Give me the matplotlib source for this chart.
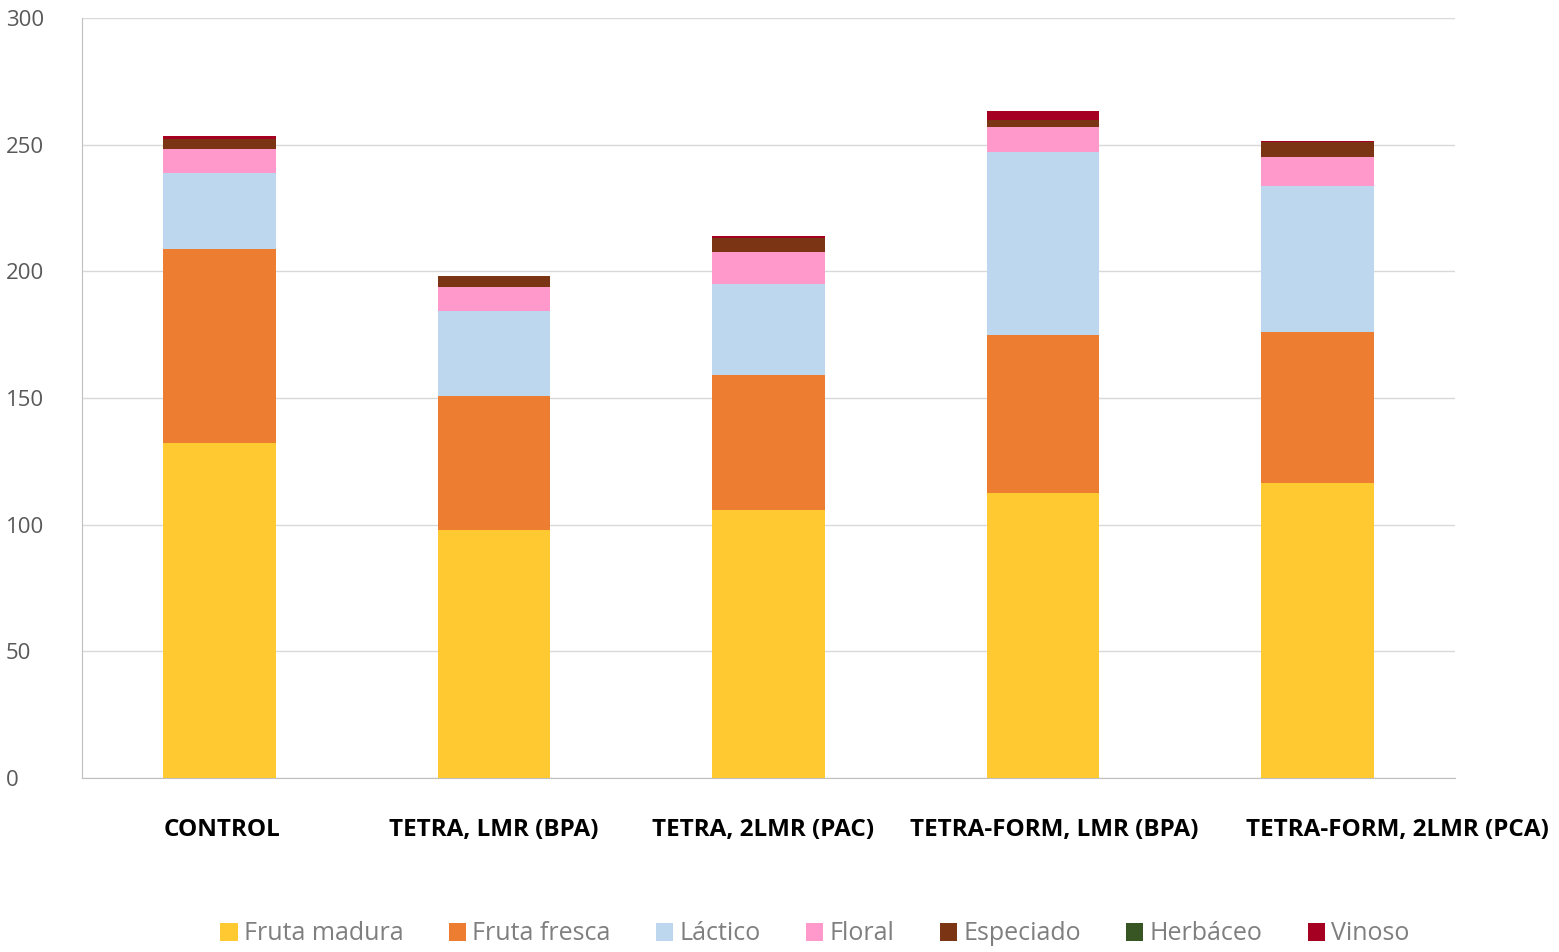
import numpy as np
import matplotlib
matplotlib.use("Agg")
import matplotlib.pyplot as plt
from matplotlib.transforms import blended_transform_factory

# datos
grupos = ['CONTROL', 'TETRA, LMR (BPA)', 'TETRA, 2LMR (PAC)',
          'TETRA-FORM, LMR (BPA)', 'TETRA-FORM, 2LMR (PCA)']
series = ['Fruta madura', 'Fruta fresca', 'Láctico', 'Floral',
          'Especiado', 'Herbáceo', 'Vinoso']
fruta_madura = [132.3, 97.9, 105.8, 112.5, 116.5]
fruta_fresca = [76.5, 52.9, 53.3, 62.4, 59.6]
lactico = [30.0, 33.7, 35.8, 72.4, 57.6]
floral = [9.5, 9.5, 12.6, 9.5, 11.6]
especiado = [4.0, 4.0, 5.5, 3.0, 5.7]
herbaceo = [0, 0, 0, 0, 0]
vinoso = [1.2, 0.3, 1.0, 3.3, 0.5]

colores = ['#FFC931', '#ED7D31', '#BDD7EE', '#FF99CC', '#7B3514', '#375623', '#A50021']
valores = [fruta_madura, fruta_fresca, lactico, floral, especiado, herbaceo, vinoso]

fig = plt.figure(figsize=(15.59, 9.52), dpi=100)
ax = fig.add_axes([82/1559, 1-778/952, (1455-82)/1559, (778-18)/952])

x = np.arange(len(grupos))
base = np.zeros(len(grupos))
handles = []
for nombre, vals, col in zip(series, valores, colores):
    b = ax.bar(x, vals, width=0.41, bottom=base, color=col, label=nombre, zorder=3)
    handles.append(b)
    base = base + np.array(vals)

ax.set_xlim(-0.5, 4.5)
ax.set_ylim(0, 300)
ax.set_yticks(range(0, 301, 50))
ax.yaxis.grid(True, color='#d9d9d9', lw=1, zorder=0)
for s in ['top', 'right']:
    ax.spines[s].set_visible(False)
ax.spines['left'].set_color('#bfbfbf')
ax.spines['bottom'].set_color('#bfbfbf')
ax.tick_params(axis='y', length=0, labelsize=16, labelcolor='#595959', pad=55)
ax.tick_params(axis='x', length=0)
ax.set_xticks([])
for t in ax.get_yticklabels():
    t.set_fontfamily('Open Sans')
    t.set_horizontalalignment('left')

# etiquetas del eje x (desplazadas como en el original)
pos_etiquetas = [0.01, 1.0, 1.98, 3.04, 4.29]
tr = blended_transform_factory(ax.transData, fig.transFigure)
for px, g in zip(pos_etiquetas, grupos):
    ax.text(px, 1-830/952, g, transform=tr, ha='center', va='center',
            fontsize=17.5, fontweight='bold', family='Open Sans', color='black',
            clip_on=False)

fig.legend(handles=handles, labels=series, loc='center', ncol=7,
           bbox_to_anchor=(815/1559, 1-934/952), frameon=False,
           prop={'family': 'Open Sans', 'size': 18}, labelcolor='#7f7f7f',
           handlelength=0.7, handleheight=0.7, handletextpad=0.25, columnspacing=1.8)

fig.savefig('out.png', dpi=100)
